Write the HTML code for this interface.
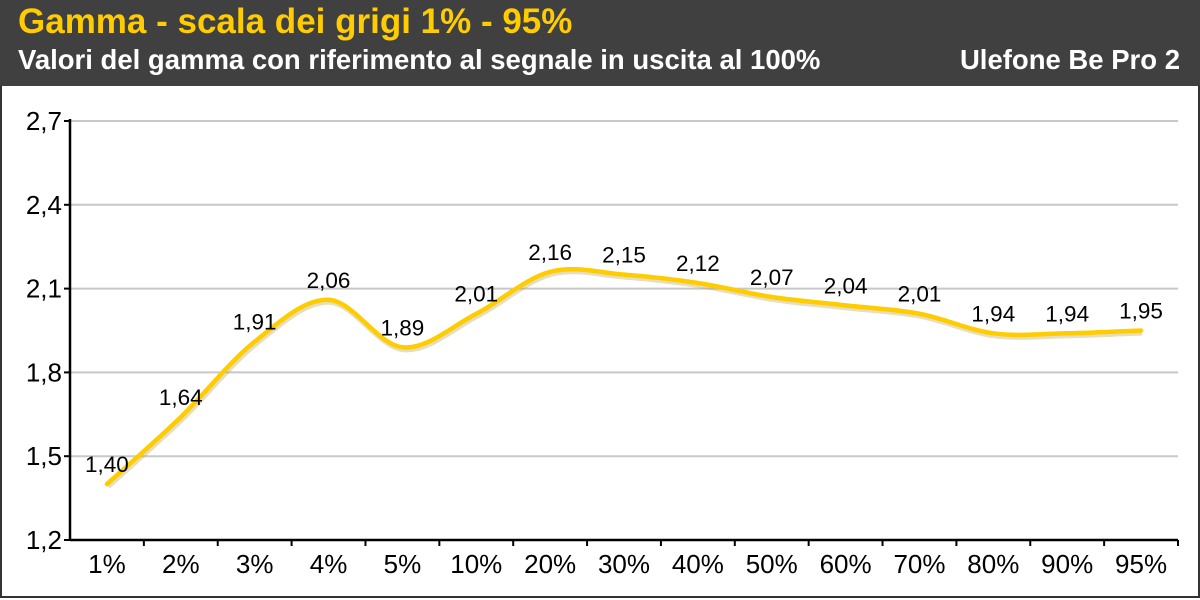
<!DOCTYPE html>
<html><head><meta charset="utf-8"><style>
body{margin:0;width:1200px;height:600px;overflow:hidden;font-family:"Liberation Sans",sans-serif;background:#fff}
#hdr{position:absolute;left:0;top:0;width:1200px;height:86px;background:#404040}
#panel{position:absolute;left:0;top:86px;width:1196px;height:510px;border:2px solid #333;border-top:none;background:#fff}
</style></head><body>
<div id="hdr">
<div style="position:absolute;left:18px;top:2px;color:#ffcc00;font-weight:bold;font-size:35px;white-space:nowrap">Gamma - scala dei grigi 1% - 95%</div>
<div style="position:absolute;left:18px;top:44px;color:#fff;font-weight:bold;font-size:27.5px;white-space:nowrap">Valori del gamma con riferimento al segnale in uscita al 100%</div>
<div style="position:absolute;right:20px;top:44px;color:#fff;font-weight:bold;font-size:27.5px;white-space:nowrap">Ulefone Be Pro 2</div>
</div>
<div id="panel"></div>
<svg id="c" width="1200" height="600" style="position:absolute;left:0;top:0"></svg>
<script>
const categories=["1%","2%","3%","4%","5%","10%","20%","30%","40%","50%","60%","70%","80%","90%","95%"];
const values=[1.40,1.64,1.91,2.06,1.89,2.01,2.16,2.15,2.12,2.07,2.04,2.01,1.94,1.94,1.95];
const yTicks=[1.2,1.5,1.8,2.1,2.4,2.7];
const X0=70,X1=1178,Y0=540,Y1=121,vmin=1.2,vmax=2.7;
const bw=(X1-X0)/categories.length;
const x=i=>X0+bw*(i+0.5);
const y=v=>Y0-(v-vmin)/(vmax-vmin)*(Y0-Y1);
const svg=document.getElementById('c');const NS="http://www.w3.org/2000/svg";
function mk(t,a,txt){const e=document.createElementNS(NS,t);for(const k in a)e.setAttribute(k,a[k]);if(txt!=null)e.textContent=txt;svg.appendChild(e);return e;}
yTicks.forEach(t=>{
 if(t>vmin){const g=mk('line',{x1:X0,x2:X1,y1:y(t),y2:y(t),stroke:'#c8c8c8','stroke-width':2});
 
 }
 const tk=mk('line',{x1:X0-6,x2:X0,y1:y(t),y2:y(t),stroke:'#000','stroke-width':2});
 
 
 const l=mk('text',{x:X0-8,y:y(t)+9,'text-anchor':'end','font-size':26,fill:'#000'},t.toFixed(1).replace('.',','));
 
 
});
const ya=mk('line',{x1:X0,x2:X0,y1:Y1-2,y2:Y0,stroke:'#000','stroke-width':2.5});


const xa=mk('line',{x1:X0,x2:X1,y1:Y0,y2:Y0,stroke:'#000','stroke-width':2.5});


categories.forEach((c,i)=>{
 const tk=mk('line',{x1:X0+bw*(i+1),x2:X0+bw*(i+1),y1:Y0,y2:Y0+6,stroke:'#000','stroke-width':2});
 
 
 const l=mk('text',{x:x(i),y:Y0+33,'text-anchor':'middle','font-size':26,fill:'#000'},c);
 
 
});
const P=values.map((v,i)=>[x(i),y(v)]);
let d=`M${P[0][0]},${P[0][1]}`;
for(let i=0;i<P.length-1;i++){const p0=P[Math.max(0,i-1)],p1=P[i],p2=P[i+1],p3=P[Math.min(P.length-1,i+2)];
 d+=` C${p1[0]+(p2[0]-p0[0])/6},${p1[1]+(p2[1]-p0[1])/6} ${p2[0]-(p3[0]-p1[0])/6},${p2[1]-(p3[1]-p1[1])/6} ${p2[0]},${p2[1]}`;}
const sh=mk('path',{d:d,fill:'none',stroke:'#b8a040','stroke-width':6,opacity:0.35,transform:'translate(1,2)'});


const ln=mk('path',{d:d,fill:'none',stroke:'#ffcc00','stroke-width':4.5,'stroke-linecap':'round'});


values.forEach((v,i)=>{
 const l=mk('text',{x:x(i),y:y(v)-12,'text-anchor':'middle','font-size':22.5,fill:'#000'},v.toFixed(2).replace('.',','));
 
 
});
</script>
</body></html>
